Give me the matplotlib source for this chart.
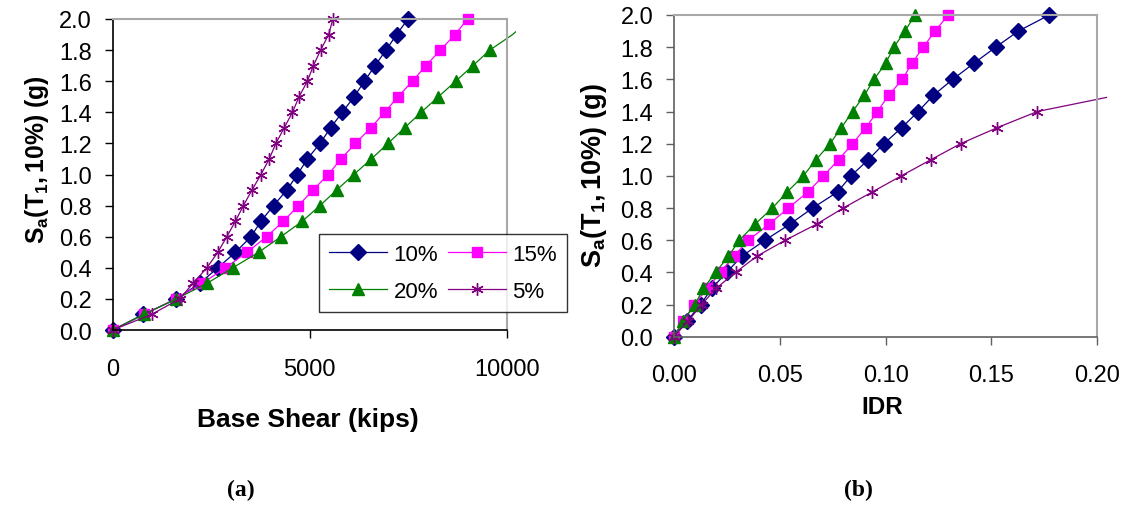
import numpy as np
import matplotlib
matplotlib.use("Agg")
from matplotlib import pyplot as plt
from matplotlib.patches import Rectangle

plt.rcParams['font.family'] = ['Liberation Sans', 'DejaVu Sans']
plt.rcParams['mathtext.fontset'] = 'custom'
plt.rcParams['mathtext.rm'] = 'Liberation Sans:bold'
plt.rcParams['mathtext.it'] = 'Liberation Sans:bold'
plt.rcParams['mathtext.bf'] = 'Liberation Sans:bold'

# spectral acceleration levels (g)
sa = [0.0, 0.1, 0.2, 0.3, 0.4, 0.5, 0.6, 0.7, 0.8, 0.9, 1.0,
      1.1, 1.2, 1.3, 1.4, 1.5, 1.6, 1.7, 1.8, 1.9, 2.0]
labels = ['10%', '15%', '20%', '5%']

# (a) base shear (kips)
shear_10 = [0, 774, 1616, 2205, 2669, 3115, 3510, 3763, 4083, 4419, 4689,
            4941, 5261, 5531, 5825, 6128, 6389, 6659, 6937, 7206, 7492]
shear_15 = [0, 791, 1599, 2273, 2862, 3409, 3906, 4335, 4714, 5084, 5472,
            5792, 6162, 6549, 6903, 7240, 7610, 7947, 8317, 8687, 9007]
shear_20 = [0, 791, 1616, 2391, 3047, 3704, 4268, 4815, 5261, 5682, 6120,
            6566, 6987, 7408, 7829, 8267, 8705, 9142, 9572, 10150, 10600]
shear_5 = [0, 985, 1700, 2037, 2391, 2669, 2896, 3115, 3317, 3535, 3763,
           3973, 4142, 4352, 4562, 4731, 4941, 5093, 5278, 5480, 5590]

# (b) interstory drift ratio
idr_10 = [0, 0.0063, 0.0126, 0.0178, 0.0249, 0.0320, 0.0430, 0.0548, 0.0655,
          0.0773, 0.0836, 0.0918, 0.0992, 0.1076, 0.1154, 0.1225, 0.1317,
          0.1417, 0.1520, 0.1627, 0.1773]
idr_15 = [0, 0.0044, 0.0096, 0.0157, 0.0220, 0.0283, 0.0351, 0.0450, 0.0540,
          0.0633, 0.0706, 0.0778, 0.0843, 0.0907, 0.0961, 0.1014, 0.1079,
          0.1124, 0.1178, 0.1233, 0.1296]
idr_20 = [0, 0.0044, 0.0099, 0.0139, 0.0197, 0.0257, 0.0309, 0.0383, 0.0465,
          0.0535, 0.0611, 0.0671, 0.0737, 0.0791, 0.0844, 0.0899, 0.0945,
          0.1000, 0.1039, 0.1091, 0.1139]
idr_5 = [0, 0.0068, 0.0131, 0.0198, 0.0291, 0.0391, 0.0526, 0.0674, 0.0800,
         0.0937, 0.1074, 0.1213, 0.1354, 0.1528, 0.1717, 0.2090]

colors = ['#000080', '#ff00ff', '#008000', '#800080']
markers = ['D', 's', '^', (6, 2, 0)]
msizes = [8, 7.5, 9, 9]

W, H = 1133, 510
fig = plt.figure(figsize=(W / 100, H / 100), dpi=100)


def px_axes(x0, y0, x1, y1):
    return fig.add_axes([x0 / W, 1 - y1 / H, (x1 - x0) / W, (y1 - y0) / H])


ax1 = px_axes(112.7, 20, 506.7, 331)
ax2 = px_axes(674, 16, 1097.3, 337.7)


def draw(ax, xs_list, xmax):
    clip = Rectangle((-0.05, -0.05), 1.073, 1.1, transform=ax.transAxes,
                     facecolor='none', edgecolor='none')
    lines = []
    for xs, c, m, ms, lab in zip(xs_list, colors, markers, msizes, labels):
        xs = np.array(xs)
        ys = np.array(sa[:len(xs)])
        keep = [i for i in range(len(xs)) if xs[i] <= xmax]
        ln, = ax.plot(xs, ys, color=c, lw=0.9, marker=m, ms=ms,
                      mfc=c, mec=c, mew=1.0, markevery=keep, label=lab)
        ln.set_clip_path(clip)
        lines.append(ln)
    return lines


lines1 = draw(ax1, [shear_10, shear_15, shear_20, shear_5], 10000)
draw(ax2, [idr_10, idr_15, idr_20, idr_5], 0.2)

for ax, xmax, xt, fmt, sp in [(ax1, 10000, [0, 5000, 10000], '{:.0f}', 'black'),
                              (ax2, 0.2, [0, 0.05, 0.10, 0.15, 0.20], '{:.2f}', '#606060')]:
    ax.set_xlim(0, xmax)
    ax.set_ylim(0, 2.0)
    ax.set_xticks(xt)
    ax.set_xticklabels([fmt.format(v) for v in xt])
    ax.set_yticks(np.arange(0, 2.01, 0.2))
    ax.set_yticklabels(['{:.1f}'.format(v) for v in np.arange(0, 2.01, 0.2)])
    ax.tick_params(axis='both', direction='out', length=6, width=1,
                   labelsize=17, color=sp)
    ax.tick_params(axis='y', pad=9)
    ax.tick_params(axis='x', pad=14)
    for s in ['left', 'bottom']:
        ax.spines[s].set_color(sp)
        ax.spines[s].set_linewidth(1.2)
    for s in ['top', 'right']:
        ax.spines[s].set_color('#a8a8a8')
        ax.spines[s].set_linewidth(1.5)

# two columns filled row by row: 10% 15% / 20% 5%
order = [0, 2, 1, 3]
leg = ax1.legend([lines1[i] for i in order], [labels[i] for i in order],
                 ncol=2, loc='upper left', bbox_to_anchor=(319 / W, 1 - 235 / H),
                 bbox_transform=fig.transFigure, borderaxespad=0, fontsize=16,
                 frameon=True, fancybox=False, edgecolor='black',
                 handlelength=2.6, handletextpad=0.3, columnspacing=0.45,
                 labelspacing=0.7, borderpad=0.45)
leg.get_frame().set_linewidth(1.0)
leg.set_zorder(5)

ylab = r'$S_a(T_1,10\%)$ (g)'
fig.text(37 / W, 1 - 160 / H, ylab, rotation=90, ha='center', va='center',
         fontsize=17.8, fontweight='bold')
fig.text(594 / W, 1 - 176 / H, ylab, rotation=90, ha='center', va='center',
         fontsize=19.5, fontweight='bold')
fig.text(308 / W, 1 - 420 / H, 'Base Shear (kips)', ha='center', va='center',
         fontsize=19, fontweight='bold')
fig.text(882.5 / W, 1 - 408 / H, 'IDR', ha='center', va='center',
         fontsize=17.5, fontweight='bold')
fig.text(241 / W, 1 - 490 / H, '(a)', ha='center', va='center', fontsize=17,
         fontweight='bold', family='Liberation Serif')
fig.text(858 / W, 1 - 490 / H, '(b)', ha='center', va='center', fontsize=17,
         fontweight='bold', family='Liberation Serif')

fig.savefig('out.png', dpi=100)
